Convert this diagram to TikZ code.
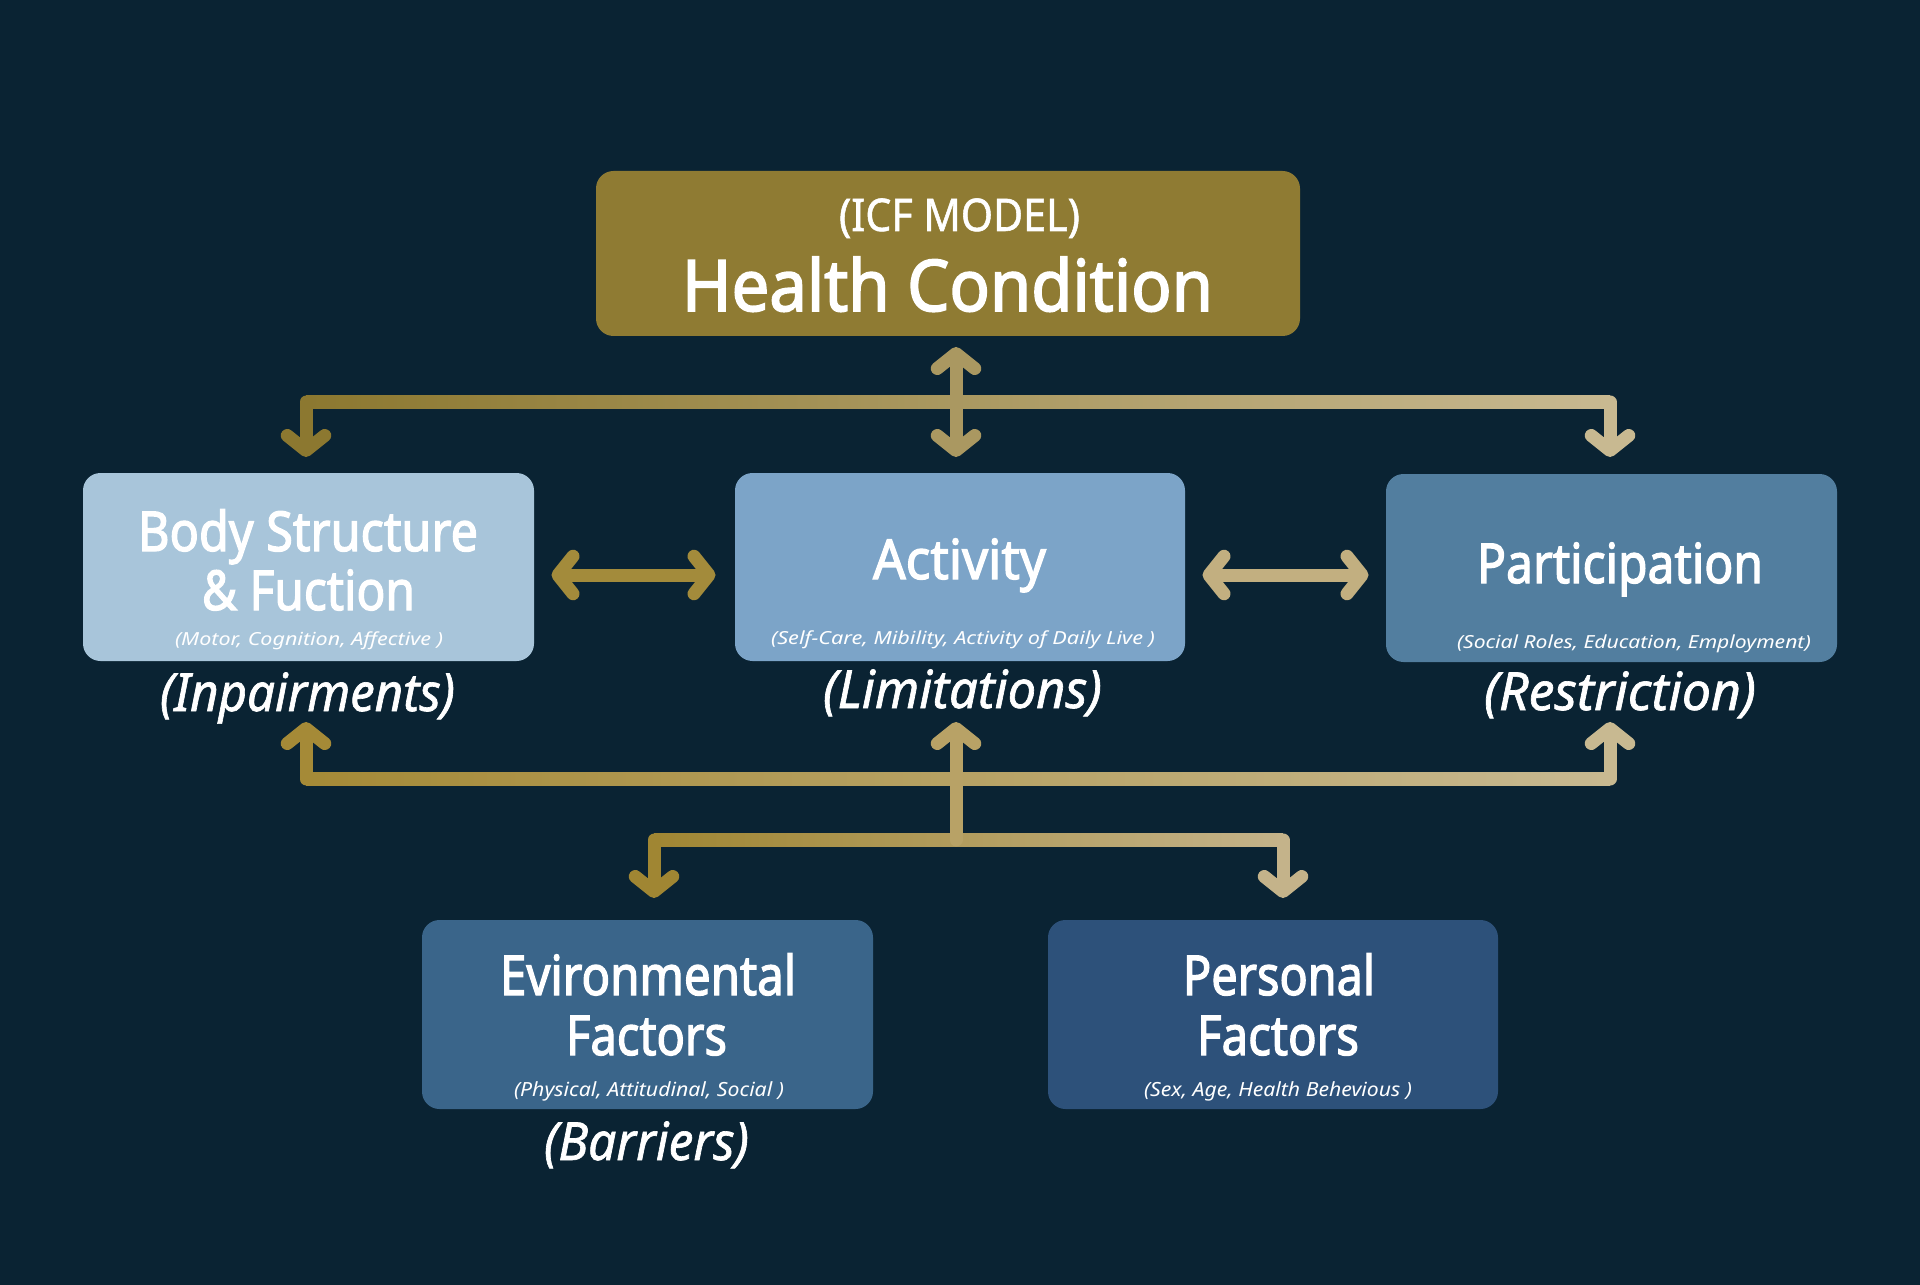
\documentclass[tikz,border=0pt]{standalone}
\usepackage{fontspec}
\setmainfont{Noto Sans}[AutoFakeBold=2.4]
\newfontfamily\medfont{Noto Sans}[FakeBold=1.3]
\usepackage{graphicx}
\usetikzlibrary{arrows.meta}
\definecolor{bgc}{HTML}{0A2333}
\definecolor{hcc}{HTML}{8F7B33}
\definecolor{bodyc}{HTML}{A8C5DA}
\definecolor{actc}{HTML}{7CA4C8}
\definecolor{partc}{HTML}{527E9F}
\definecolor{envc}{HTML}{3A658A}
\definecolor{persc}{HTML}{2D517A}
\definecolor{gA}{HTML}{8C7830}
\definecolor{gB}{HTML}{C8B991}
\definecolor{gM}{HTML}{AA9861}
\definecolor{gC}{HTML}{A58A37}
\definecolor{gM2}{HTML}{B8A266}
\definecolor{gD}{HTML}{A08633}
\definecolor{gE}{HTML}{C4B38A}
\definecolor{hA}{HTML}{A38B3B}
\definecolor{hB}{HTML}{C2AF80}
\newdimen\pxu \pxu=0.4pt
\newlength\fitlen
\newcommand\fitx[2]{\settowidth\fitlen{#2}\pgfmathsetmacro\fitsx{#1*0.4/\fitlen}\scalebox{\fitsx}[1]{#2}}
\tikzset{
 box/.style={rectangle, rounded corners=7pt, inner sep=0pt, draw=none},
 txt/.style={text=white, inner sep=0pt, anchor=base},
 ttl/.style={txt, font=\bfseries\fontsize{22pt}{24pt}\selectfont},
 sub/.style={txt, font=\itshape\fontsize{7.2pt}{8pt}\selectfont},
 subb/.style={txt, font=\itshape\fontsize{7.8pt}{9pt}\selectfont},
 lbl/.style={txt, font=\medfont\itshape\fontsize{21pt}{24pt}\selectfont},
 conn/.style={line width=5.2pt, line cap=round, line join=round},
 Chev/.tip={Straight Barb[round, length=6pt, width=15pt]},
}
\begin{document}
\begin{tikzpicture}[x=0.4pt,y=-0.4pt]
\fill[bgc] (0,0) rectangle (1920,1285);
\useasboundingbox (0,0) rectangle (1920,1285);

% boxes
\node[box, fill=hcc, minimum width=704\pxu, minimum height=165\pxu] (hc) at (948,253.5) {};
\node[box, fill=bodyc, minimum width=451\pxu, minimum height=188\pxu] (body) at (308.5,567) {};
\node[box, fill=actc, minimum width=450\pxu, minimum height=188\pxu] (act) at (960,567) {};
\node[box, fill=partc, minimum width=451\pxu, minimum height=188\pxu] (part) at (1611.5,568) {};
\node[box, fill=envc, minimum width=451\pxu, minimum height=189\pxu] (env) at (647.5,1014.5) {};
\node[box, fill=persc, minimum width=450\pxu, minimum height=189\pxu] (pers) at (1273,1014.5) {};

% texts
\node[txt, font=\medfont\fontsize{18pt}{20pt}\selectfont] (icf) at (959.5,231) {\fitx{241}{(ICF MODEL)}};
\node[txt, font=\bfseries\fontsize{28.5pt}{30pt}\selectfont] (hct) at (947.5,311) {\fitx{531}{Health Condition}};

\node[ttl] (bt1) at (308,551) {\fitx{340}{Body Structure}};
\node[ttl] (bt2) at (308.5,610) {\fitx{213}{\& Fuction}};
\node[sub] (bs) at (309,645) {\fitx{268}{(Motor, Cognition, Affective )}};
\node[lbl] (bl) at (307.5,711) {\fitx{295}{(Inpairments)}};

\node[ttl] (at) at (959.5,579) {\fitx{173}{Activity}};
\node[sub] (as) at (963,644) {\fitx{384}{(Self-Care, Mibility, Activity of Daily Live )}};
\node[lbl] (al) at (962.5,708) {\fitx{279}{(Limitations)}};

\node[ttl] (pt) at (1620,583) {\fitx{286}{Participation}};
\node[sub] (ps) at (1634,648) {\fitx{354}{(Social Roles, Education, Employment)}};
\node[lbl] (pl) at (1620,710) {\fitx{272}{(Restriction)}};

\node[ttl] (et1) at (648,995) {\fitx{296}{Evironmental}};
\node[ttl] (et2) at (646.5,1055) {\fitx{161}{Factors}};
\node[subb] (es) at (649,1096) {\fitx{270}{(Physical, Attitudinal, Social )}};
\node[lbl] (el) at (646.5,1160) {\fitx{205}{(Barriers)}};

\node[ttl] (pt1) at (1279,995) {\fitx{192}{Personal}};
\node[ttl] (pt2) at (1278,1055) {\fitx{162}{Factors}};
\node[subb] (pss) at (1278,1096) {\fitx{268}{(Sex, Age, Health Behevious )}};

% connector end points
\coordinate (tl) at (306,402);
\coordinate (tr) at (1610,402);
\coordinate (bodyIn) at (306,457);
\coordinate (partIn) at (1610,457);
\coordinate (hcOut) at (956,347);
\coordinate (actIn) at (956,457);
\coordinate (bl0) at (306,779);
\coordinate (br0) at (1610,779);
\coordinate (bodyUp) at (306,722);
\coordinate (actUp) at (956,722);
\coordinate (partUp) at (1610,722);
\coordinate (lc) at (956,840);
\coordinate (ll) at (654,840);
\coordinate (lr) at (1283,840);
\coordinate (envIn) at (654,898);
\coordinate (persIn) at (1283,898);

% top bar
\shade[left color=gA, right color=gB] (306,395.5) rectangle (1610,408.5);
\draw[conn, gA, -Chev] (tl) -- (bodyIn);
\draw[conn, gB, -Chev] (tr) -- (partIn);
\draw[conn, gM, Chev-Chev] (hcOut) -- (actIn);

% bottom bars
\shade[left color=gC, right color=gB] (306,772.5) rectangle (1610,785.5);
\shade[left color=gD, right color=gE] (654,833.5) rectangle (1283,846.5);
\draw[conn, gC, -Chev] (bl0) -- (bodyUp);
\draw[conn, gB, -Chev] (br0) -- (partUp);
\draw[conn, gM2, -Chev] (lc) -- (actUp);
\draw[conn, gD, -Chev] (ll) -- (envIn);
\draw[conn, gE, -Chev] (lr) -- (persIn);

% horizontal double arrows
\draw[conn, hA, Chev-Chev] ([xshift=17\pxu,yshift=-8\pxu]body.east) -- ([xshift=-19\pxu,yshift=-8\pxu]act.west);
\draw[conn, hB, Chev-Chev] ([xshift=17\pxu,yshift=-8\pxu]act.east) -- ([xshift=-17\pxu,yshift=-7\pxu]part.west);
\end{tikzpicture}
\end{document}
